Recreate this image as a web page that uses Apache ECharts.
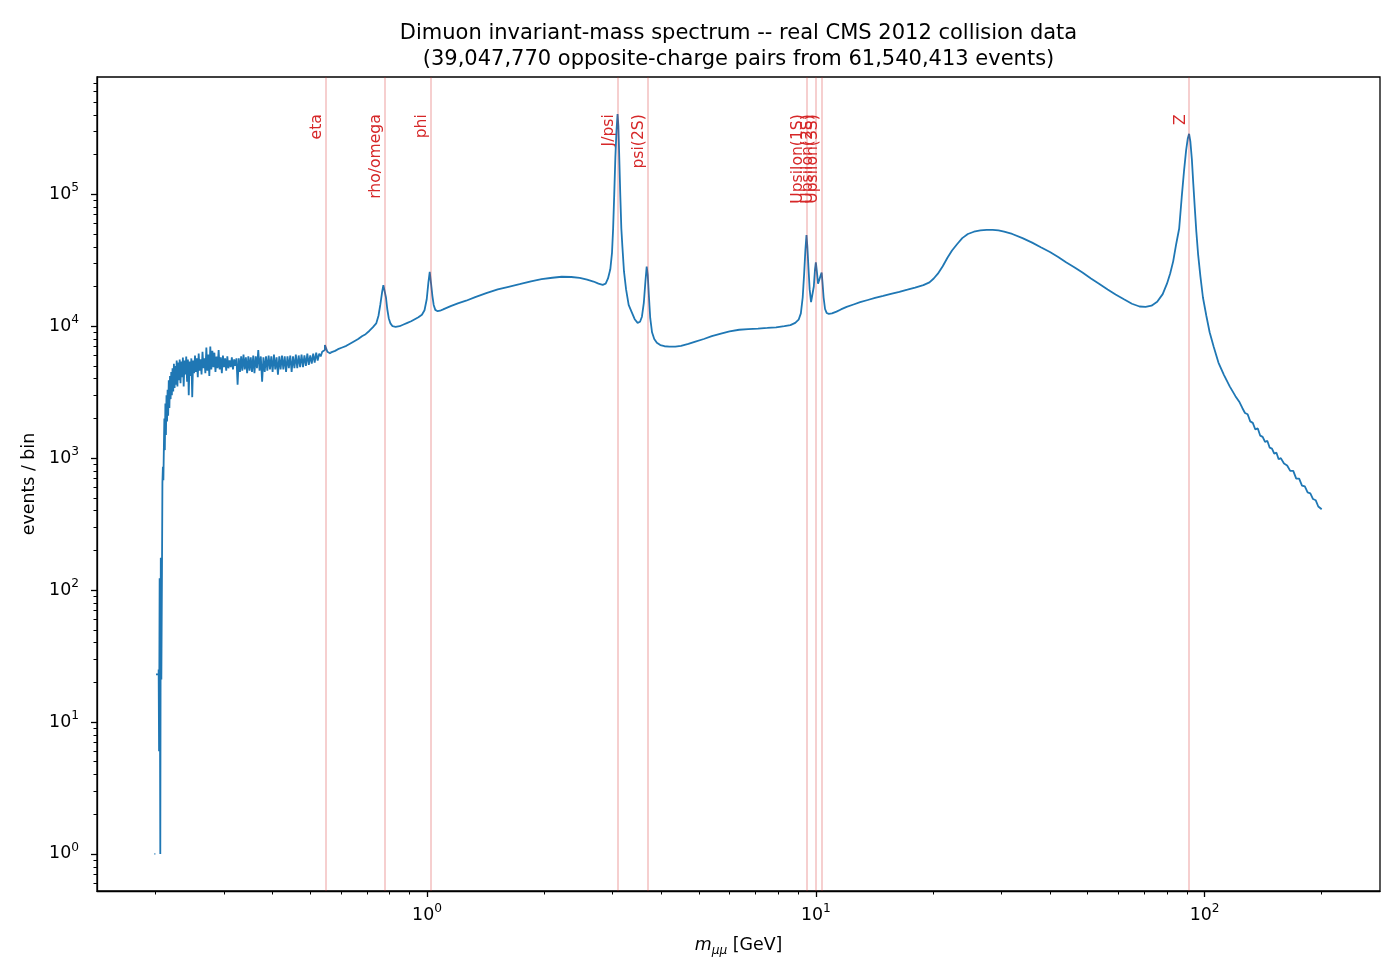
<!DOCTYPE html>
<html>
<head>
<meta charset="utf-8">
<title>Dimuon invariant-mass spectrum</title>
<script src="https://cdn.jsdelivr.net/npm/echarts@6/dist/echarts.min.js"></script>
<style>
html, body { margin: 0; padding: 0; background: #fff; }
#chart { width: 1400px; height: 980px; }
</style>
</head>
<body>
<div id="chart"></div>
<script>
// histogram, one small block per mass region (GeV, events / bin)
var thresholdMass = [0.1990, 0.2000, 0.2004, 0.2008, 0.2040, 0.2045, 0.2052, 0.2060, 0.2066, 0.2073,
    0.2080, 0.2086, 0.2092, 0.2098, 0.2104, 0.2110, 0.2116, 0.2123, 0.2130, 0.2137,
    0.2144, 0.2151, 0.2158, 0.2166, 0.2174, 0.2182, 0.2190, 0.2198, 0.2206, 0.2215,
    0.2224, 0.2233, 0.2242, 0.2251, 0.2260, 0.2270, 0.2280, 0.2290];
var thresholdCounts = [1, 1, null, 23, 25, 6, 123, 1, 176, 21,
    120, 650, 860, 680, 1200, 2000, 1150, 2600, 1500, 3000,
    1900, 3300, 2100, 3900, 2400, 4200, 2800, 4500, 3000, 4800,
    3200, 5200, 3400, 5000, 3600, 5500, 3500, 5300];

var plateauMass = [0.2300, 0.2311, 0.2322, 0.2333, 0.2344, 0.2355, 0.2366, 0.2378, 0.2390, 0.2402,
    0.2414, 0.2426, 0.2438, 0.2450, 0.2463, 0.2476, 0.2489, 0.2502, 0.2516, 0.2530,
    0.2544, 0.2558, 0.2572, 0.2586, 0.2600, 0.2615, 0.2630, 0.2645, 0.2660, 0.2675,
    0.2690, 0.2706, 0.2722, 0.2738, 0.2754, 0.2770, 0.2787, 0.2804, 0.2821, 0.2838,
    0.2856, 0.2874, 0.2892, 0.2910, 0.2928, 0.2947, 0.2966, 0.2985, 0.3004, 0.3024,
    0.3044, 0.3064, 0.3084, 0.3105, 0.3126, 0.3147, 0.3168, 0.3190, 0.3212, 0.3234,
    0.3256, 0.3279, 0.3302, 0.3325, 0.3348, 0.3372, 0.3396, 0.3420, 0.3445, 0.3470,
    0.3495, 0.3520, 0.3546, 0.3572, 0.3598, 0.3625, 0.3652, 0.3680, 0.3708, 0.3736,
    0.3765, 0.3794, 0.3823, 0.3853, 0.3883, 0.3913, 0.3944, 0.3975, 0.4006, 0.4038,
    0.4070, 0.4102, 0.4135, 0.4168, 0.4201, 0.4235, 0.4269, 0.4304, 0.4339, 0.4375,
    0.4411, 0.4447, 0.4484, 0.4521, 0.4559, 0.4597, 0.4636, 0.4675, 0.4715, 0.4755,
    0.4796, 0.4837, 0.4879, 0.4921, 0.4964, 0.5007, 0.5051, 0.5095, 0.5140, 0.5186,
    0.5232, 0.5279, 0.5326, 0.5374, 0.5422, 0.5460, 0.5500, 0.5540, 0.5590, 0.5640];
var plateauCounts = [3900, 5600, 3700, 5400, 4100, 5800, 3500, 5500, 4300, 5900,
    3800, 5600, 3000, 5400, 4200, 5700, 2900, 5500, 4400, 6000,
    4500, 5700, 4100, 6200, 4600, 5600, 4300, 6400, 4800, 5700,
    4400, 6900, 4600, 6100, 4200, 7000, 4700, 6500, 4900, 6300,
    4500, 5900, 4800, 6600, 4700, 5800, 4400, 6000, 4900, 5700,
    4600, 5900, 4800, 5500, 4900, 5800, 4700, 5600, 5000, 5700,
    3600, 5700, 4500, 5900, 4600, 6100, 4700, 5800, 4400, 5900,
    4600, 5800, 4500, 6000, 4400, 5900, 4800, 6600, 4600, 5900,
    3800, 5800, 4500, 5900, 4600, 6000, 4700, 5900, 4500, 6100,
    4700, 5800, 4300, 5900, 4700, 6000, 4700, 5900, 4500, 5900,
    4800, 6000, 4500, 5900, 4800, 6100, 4800, 6000, 4900, 6100,
    4900, 6000, 5000, 6200, 5100, 6000, 5200, 6200, 5300, 6300,
    5500, 6200, 5900, 6400, 6600, 7200, 6800, 6400, 6200, 6300];

var lightMesonMass = [0.5700, 0.5800, 0.5900, 0.6050, 0.6200, 0.6350, 0.6500, 0.6650, 0.6800, 0.6950,
    0.7100, 0.7250, 0.7400, 0.7500, 0.7580, 0.7660, 0.7720, 0.7780, 0.7840, 0.7900,
    0.7970, 0.8050, 0.8150, 0.8300, 0.8500, 0.8700, 0.8900, 0.9100, 0.9300, 0.9500,
    0.9700, 0.9850, 0.9980, 1.0080, 1.0160, 1.0240, 1.0320, 1.0400, 1.0500, 1.0650];
var lightMesonCounts = [6400, 6500, 6700, 6900, 7100, 7400, 7700, 8000, 8400, 8700,
    9200, 9800, 10500, 12000, 14500, 18000, 20500, 20000, 16500, 13500,
    11500, 10500, 10000, 9900, 10000, 10300, 10600, 10900, 11300, 11700,
    12200, 13200, 16000, 21500, 25800, 21000, 17000, 14500, 13300, 13000];

var charmMass = [1.080, 1.100, 1.150, 1.200, 1.260, 1.330, 1.420, 1.520, 1.620, 1.730,
    1.850, 1.970, 2.100, 2.220, 2.350, 2.470, 2.580, 2.680, 2.760, 2.830,
    2.880, 2.920, 2.960, 2.990, 3.010, 3.030, 3.050, 3.070, 3.090, 3.105,
    3.120, 3.140, 3.160, 3.180, 3.210, 3.250, 3.300, 3.360, 3.420, 3.480,
    3.530, 3.570, 3.610, 3.645, 3.672, 3.695, 3.720, 3.750, 3.790, 3.840,
    3.900, 3.980, 4.080, 4.200];
var charmCounts = [13100, 13400, 14200, 14900, 15600, 16600, 17800, 19000, 19900, 20800,
    21900, 22700, 23300, 23700, 23600, 23200, 22500, 21800, 21000, 20600,
    21000, 23000, 27000, 36000, 55000, 100000, 190000, 300000, 406000, 330000,
    200000, 100000, 55000, 40000, 26000, 19000, 14500, 12800, 11300, 10600,
    10800, 11800, 15000, 22000, 28300, 24500, 17000, 11500, 9000, 8000,
    7500, 7200, 7050, 7000];

var bottomMass = [4.350, 4.500, 4.700, 4.900, 5.150, 5.400, 5.700, 6.000, 6.350, 6.700,
    7.100, 7.500, 7.900, 8.300, 8.600, 8.850, 9.030, 9.150, 9.250, 9.330,
    9.400, 9.460, 9.510, 9.570, 9.640, 9.720, 9.800, 9.880, 9.950, 10.000,
    10.060, 10.130, 10.220, 10.300, 10.350, 10.400, 10.470, 10.560, 10.660, 10.800,
    11.000];
var bottomCounts = [7000, 7100, 7350, 7650, 8000, 8400, 8800, 9150, 9400, 9500,
    9600, 9700, 9800, 10000, 10200, 10600, 11200, 12500, 16500, 25000,
    38000, 49000, 40000, 28000, 19000, 15200, 15500, 20000, 27000, 30500,
    26000, 21000, 21500, 24500, 25500, 21500, 16500, 13500, 12600, 12400,
    12500];

var continuumMass = [11.30, 11.60, 12.00, 12.50, 13.00, 13.60, 14.20, 14.90, 15.60, 16.40,
    17.20, 18.00, 18.90, 19.60, 20.10, 20.60, 21.20, 21.80, 22.40, 23.10,
    23.80, 24.60, 25.50, 26.50, 27.50, 28.50, 29.50, 30.50, 32.00, 34.00,
    36.00, 38.00, 40.00, 42.00, 44.00, 46.20, 48.50, 51.00, 53.50, 56.30,
    59.00, 62.00, 65.00, 68.00, 70.50, 73.00, 75.50, 78.00];
var continuumCounts = [12900, 13400, 14000, 14600, 15200, 15800, 16400, 17000, 17600, 18200,
    18900, 19600, 20500, 21500, 23000, 25000, 28500, 33000, 37500, 42000,
    46500, 50000, 52000, 53200, 53800, 53800, 53200, 52000, 50000, 46500,
    43000, 39500, 36500, 33500, 30500, 28000, 25500, 23000, 21000, 19000,
    17400, 16000, 14800, 14100, 14000, 14300, 15300, 17500];

var zMass = [80.0, 81.5, 83.0, 84.5, 86.0, 87.3, 88.5, 89.6, 90.5, 91.2,
    91.9, 92.7, 93.5, 94.3, 95.2, 96.2, 97.5, 99.0, 101.0, 103.0,
    105.5, 108.5, 112.0, 116.0, 120.0, 123.0, 125.0, 127.0, 129.0, 131.0,
    133.0, 135.0, 137.0, 139.0, 141.0, 143.0, 145.0, 147.0, 149.0, 151.0,
    153.0, 155.0, 157.0, 160.0, 163.0, 166.0, 169.0, 172.0, 175.0, 178.0,
    181.0, 184.0, 187.0, 190.0, 193.0, 196.0, 198.0, 200.0];
var zCounts = [21000, 25000, 31000, 42000, 55000, 95000, 150000, 215000, 265000, 287000,
    250000, 185000, 120000, 80000, 52000, 35000, 24000, 16500, 12000, 9000,
    7000, 5300, 4300, 3500, 2950, 2650, 2400, 2200, 2150, 1900,
    1850, 1650, 1680, 1480, 1450, 1330, 1350, 1200, 1180, 1080,
    1100, 980, 1000, 910, 880, 800, 800, 700, 700, 620,
    610, 550, 540, 490, 480, 430, 440, 410];

var resonanceNames = ['eta', 'rho/omega', 'phi', 'J/psi', 'psi(2S)', 'Upsilon(1S)', 'Upsilon(2S)', 'Upsilon(3S)', 'Z'];
var resonanceMasses = [0.548, 0.775, 1.019, 3.097, 3.686, 9.460, 10.023, 10.355, 91.19];

var xMajorTicks = [1, 10, 100];
var xMinorTicks = [0.2, 0.3, 0.4, 0.5, 0.6, 0.7, 0.8, 0.9, 2, 3, 4, 5, 6, 7, 8, 9,
    20, 30, 40, 50, 60, 70, 80, 90, 200];
var yMajorTicks = [1, 10, 100, 1000, 10000, 100000];
var yMinorTicks = [0.6, 0.7, 0.8, 0.9, 2, 3, 4, 5, 6, 7, 8, 9,
    20, 30, 40, 50, 60, 70, 80, 90, 200, 300, 400, 500, 600, 700, 800, 900,
    2000, 3000, 4000, 5000, 6000, 7000, 8000, 9000,
    20000, 30000, 40000, 50000, 60000, 70000, 80000, 90000,
    200000, 300000, 400000, 500000, 600000, 700000];

var FONT = 'DejaVu Sans';

var main = {
    init: function () {
        var _this = this;
        var dom = document.getElementById('chart');
        var myChart = echarts.init(dom);
        myChart.setOption(_this.buildOption());
    },
    // [mass, count] pairs from some region blocks, null = empty bin (breaks the line)
    toPairs: function (masses, counts) {
        var out = [];
        for (var i = 0; i < masses.length; i++) {
            if (masses[i].length !== counts[i].length) console.error('region ' + i + ' length mismatch');
            for (var j = 0; j < masses[i].length; j++) {
                var c = counts[i][j];
                out.push([masses[i][j], c == null ? '-' : c]);
            }
        }
        return out;
    },
    powLabel: function (v) {
        var e = Math.round(Math.log(v) / Math.LN10);
        return '{b|10}{s|' + e + '}';
    },
    buildOption: function () {
        var _this = this;
        var xMin = 0.1416, xMax = 282.5;
        var yMin = 0.524, yMax = 7.74e5;
        // labels sit at 95% of the axes height, like axes-fraction text
        var lyMin = Math.log(yMin) / Math.LN10, lyMax = Math.log(yMax) / Math.LN10;
        var labelY = Math.pow(10, lyMin + 0.95 * (lyMax - lyMin));

        // noisy low-mass part drawn as steps, the rest as a plain line
        var lowPart = _this.toPairs([thresholdMass, plateauMass], [thresholdCounts, plateauCounts]);
        var highPart = _this.toPairs(
            [lightMesonMass, charmMass, bottomMass, continuumMass, zMass],
            [lightMesonCounts, charmCounts, bottomCounts, continuumCounts, zCounts]);
        highPart.unshift(lowPart[lowPart.length - 1]);

        var tickRich = {
            b: { fontFamily: FONT, fontSize: 17.4, lineHeight: 24, color: '#000' },
            s: { fontFamily: FONT, fontSize: 12.2, lineHeight: 12, verticalAlign: 'top', color: '#000' }
        };
        var axisLineStyle = { color: '#000', width: 1.3 };
        var histLine = { color: '#1f77b4', width: 1.8 };

        var labelData = [];
        for (var i = 0; i < resonanceMasses.length; i++) {
            labelData.push([resonanceMasses[i], labelY, resonanceNames[i]]);
        }

        return {
            animation: false,
            backgroundColor: '#fff',
            title: {
                text: 'Dimuon invariant-mass spectrum -- real CMS 2012 collision data\n(39,047,770 opposite-charge pairs from 61,540,413 events)',
                left: 738.5,
                top: 21,
                padding: 0,
                textAlign: 'center',
                textStyle: { fontFamily: FONT, fontSize: 21, fontWeight: 'normal', color: '#000', lineHeight: 26 }
            },
            grid: {
                left: 97, right: 20, top: 77, bottom: 89,
                containLabel: false,
                outerBoundsMode: 'none',
                show: true,
                borderColor: '#000',
                borderWidth: 1.3,
                backgroundColor: 'transparent'
            },
            xAxis: [{
                type: 'log', logBase: 10, min: xMin, max: xMax, position: 'bottom',
                axisLine: { show: true, onZero: false, lineStyle: axisLineStyle },
                axisTick: { show: true, inside: false, length: 6, customValues: xMajorTicks, lineStyle: axisLineStyle },
                axisLabel: { show: true, margin: 12, customValues: xMajorTicks, formatter: _this.powLabel, rich: tickRich },
                splitLine: { show: false },
                name: '{i|m}{u|μμ}{r| [GeV]}',
                nameLocation: 'middle',
                nameGap: 42,
                nameTextStyle: {
                    fontFamily: FONT, fontSize: 17.4, color: '#000',
                    rich: {
                        i: { fontFamily: FONT, fontStyle: 'italic', fontSize: 17.4, lineHeight: 24, color: '#000' },
                        u: { fontFamily: FONT, fontStyle: 'italic', fontSize: 12.2, lineHeight: 12, verticalAlign: 'bottom', color: '#000' },
                        r: { fontFamily: FONT, fontSize: 17.4, lineHeight: 24, color: '#000' }
                    }
                }
            }, {
                type: 'log', logBase: 10, min: xMin, max: xMax, position: 'bottom',
                axisLine: { show: false },
                axisTick: { show: true, inside: false, length: 3.5, customValues: xMinorTicks, lineStyle: { color: '#000', width: 1 } },
                axisLabel: { show: false },
                splitLine: { show: false }
            }],
            yAxis: [{
                type: 'log', logBase: 10, min: yMin, max: yMax, position: 'left',
                axisLine: { show: true, onZero: false, lineStyle: axisLineStyle },
                axisTick: { show: true, inside: false, length: 6, customValues: yMajorTicks, lineStyle: axisLineStyle },
                axisLabel: { show: true, margin: 18, customValues: yMajorTicks, formatter: _this.powLabel, rich: tickRich },
                splitLine: { show: false },
                name: 'events / bin',
                nameLocation: 'middle',
                nameGap: 53,
                nameTextStyle: { fontFamily: FONT, fontSize: 17.4, color: '#000' }
            }, {
                type: 'log', logBase: 10, min: yMin, max: yMax, position: 'left',
                axisLine: { show: false },
                axisTick: { show: true, inside: false, length: 3.5, customValues: yMinorTicks, lineStyle: { color: '#000', width: 1 } },
                axisLabel: { show: false },
                splitLine: { show: false }
            }],
            series: [{
                // resonance markers: the vertical lines and their rotated names
                name: 'resonances',
                type: 'scatter',
                xAxisIndex: 0,
                yAxisIndex: 0,
                silent: true,
                symbolSize: 1,
                itemStyle: { color: 'rgba(0,0,0,0)', opacity: 1 },
                data: labelData,
                label: {
                    show: true,
                    position: [0, -3],
                    rotate: 90,
                    align: 'right',
                    verticalAlign: 'bottom',
                    formatter: function (p) { return p.data[2]; },
                    fontFamily: FONT,
                    fontSize: 15.6,
                    color: '#d62728',
                    opacity: 1
                },
                markLine: {
                    silent: true,
                    symbol: ['none', 'none'],
                    label: { show: false },
                    lineStyle: { color: 'rgba(214,39,40,0.3)', width: 1.5, type: 'solid' },
                    data: resonanceMasses.map(function (m) { return { xAxis: m }; })
                }
            }, {
                name: 'dimuon low',
                type: 'line',
                xAxisIndex: 0,
                yAxisIndex: 0,
                step: 'end',
                showSymbol: false,
                symbol: 'none',
                connectNulls: false,
                lineStyle: histLine,
                data: lowPart
            }, {
                name: 'dimuon',
                type: 'line',
                xAxisIndex: 0,
                yAxisIndex: 0,
                showSymbol: false,
                symbol: 'none',
                lineStyle: histLine,
                data: highPart
            }]
        };
    }
};

main.init();
</script>
</body>
</html>
